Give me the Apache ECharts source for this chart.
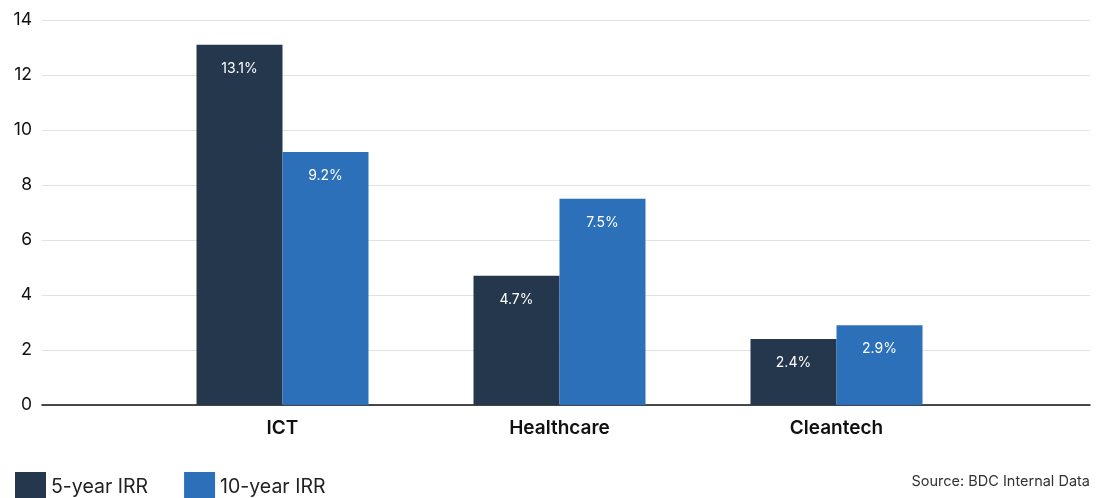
<!DOCTYPE html>
<html>
<head>
<meta charset="utf-8">
<script src="https://cdn.jsdelivr.net/npm/echarts@6/dist/echarts.min.js"></script>
<style>
  html, body { margin: 0; padding: 0; background: #fff; }
  #chart { width: 1096px; height: 498px; }
</style>
</head>
<body>
<div id="chart"></div>
<script>
var categories = ['ICT', 'Healthcare', 'Cleantech']
var irr5 = [13.1, 4.7, 2.4]
var irr10 = [9.2, 7.5, 2.9]
var seriesNames = ['5-year IRR', '10-year IRR']
var yTicks = { min: 0, max: 14, interval: 2 }

var fontFamily = 'Inter, "Noto Sans", sans-serif'
var chart = echarts.init(document.getElementById('chart'))

var barLabel = {
  show: true,
  position: 'insideTop',
  distance: 17,
  color: '#fff',
  fontSize: 14,
  fontFamily: fontFamily,
  formatter: function (p) { return p.value.toFixed(1) + '%' }
}

var option = {
  animation: false,
  color: ['#25374c', '#2c70b9'],
  title: {
    text: 'Source: BDC Internal Data',
    right: 1,
    bottom: 4,
    textStyle: { color: '#333', fontSize: 14.5, fontWeight: 'normal', fontFamily: fontFamily }
  },
  legend: {
    left: 10,
    top: 467,
    itemWidth: 31,
    itemHeight: 31,
    itemGap: 36,
    icon: 'rect',
    textStyle: { color: '#222', fontSize: 19.5, fontFamily: fontFamily },
    data: seriesNames
  },
  grid: [
    { left: 42, right: 6, top: 20, bottom: 93 },
    { left: 144, right: 121, top: 20, bottom: 93 }
  ],
  xAxis: [
    {
      gridIndex: 0,
      type: 'category',
      data: [''],
      axisLine: { show: true, lineStyle: { color: '#111', width: 1.5 } },
      axisTick: { show: false },
      axisLabel: { show: false }
    },
    {
      gridIndex: 1,
      type: 'category',
      data: categories,
      axisLine: { show: false },
      axisTick: { show: false },
      axisLabel: { color: '#111', fontSize: 19, fontWeight: 600, fontFamily: fontFamily, margin: 14 }
    }
  ],
  yAxis: [
    {
      gridIndex: 0,
      type: 'value',
      min: yTicks.min,
      max: yTicks.max,
      interval: yTicks.interval,
      axisLine: { show: false },
      axisTick: { show: false },
      axisLabel: { color: '#111', fontSize: 17.5, fontFamily: fontFamily, margin: 10 },
      splitLine: { show: true, lineStyle: { color: '#e2e2e2', width: 1 } }
    },
    {
      gridIndex: 1,
      type: 'value',
      min: yTicks.min,
      max: yTicks.max,
      interval: yTicks.interval,
      show: false,
      splitLine: { show: false }
    }
  ],
  series: [
    {
      name: seriesNames[0],
      type: 'bar',
      xAxisIndex: 1,
      yAxisIndex: 1,
      barWidth: 86,
      barGap: '0%',
      data: irr5,
      label: barLabel
    },
    {
      name: seriesNames[1],
      type: 'bar',
      xAxisIndex: 1,
      yAxisIndex: 1,
      barWidth: 86,
      barGap: '0%',
      data: irr10,
      label: barLabel
    }
  ]
}
chart.setOption(option)
</script>
</body>
</html>
